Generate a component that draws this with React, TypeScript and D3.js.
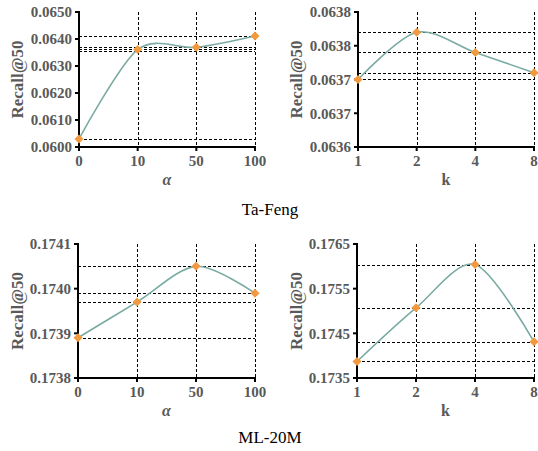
import React from "react";
import * as d3 from "d3";

const alphaLabels = ["0", "10", "50", "100"];
const kLabels = ["1", "2", "4", "8"];

const tafengAlpha = [0.0603, 0.06361, 0.06369, 0.06411];
const tafengK = [0.0637, 0.06377, 0.06374, 0.06371];
const mlAlpha = [0.17389, 0.17397, 0.17405, 0.17399];
const mlK = [0.17387, 0.17507, 0.17604, 0.17431];

const tafengAlphaTicks = [0.06, 0.061, 0.062, 0.063, 0.064, 0.065];
const tafengAlphaTickLabels = ["0.0600", "0.0610", "0.0620", "0.0630", "0.0640", "0.0650"];
const tafengKTicks = [0.0636, 0.06365, 0.0637, 0.06375, 0.0638];
const tafengKTickLabels = ["0.0636", "0.0637", "0.0637", "0.0638", "0.0638"];
const mlAlphaTicks = [0.1738, 0.1739, 0.174, 0.1741];
const mlAlphaTickLabels = ["0.1738", "0.1739", "0.1740", "0.1741"];
const mlKTicks = [0.1735, 0.1745, 0.1755, 0.1765];
const mlKTickLabels = ["0.1735", "0.1745", "0.1755", "0.1765"];

const tafengAlphaRefs = [0.06411, 0.06369, 0.06363, 0.06357, 0.0603];

const LINE = "#7aaba3";
const MARK = "#f2993f";
const TXT = "#595959";
const FONT = "'Liberation Serif', 'Times New Roman', serif";

type PanelProps = {
  x0: number; x1: number; y0: number; y1: number;
  cats: string[]; values: number[]; ticks: number[]; tickLabels: string[];
  refs: number[]; xTitle: string; titleX: number; italicTitle?: boolean;
};

function Panel(p: PanelProps) {
  const x = d3.scalePoint<string>().domain(p.cats).range([p.x0, p.x1]);
  const y = d3.scaleLinear().domain([p.ticks[0], p.ticks[p.ticks.length - 1]]).range([p.y1, p.y0]);
  const pts: [number, number][] = p.values.map((v, i) => [x(p.cats[i]) as number, y(v)]);
  const line = d3.line().curve(d3.curveCardinal.tension(0.1))(pts) || "";
  const dash = "3,2";
  const snap = (v: number) => Math.round(v) + 0.5;
  return (
    <g>
      {p.refs.map((r, i) => (
        <line key={"h" + i} x1={p.x0} x2={p.x1} y1={snap(y(r))} y2={snap(y(r))} stroke="#000" strokeWidth={1} strokeDasharray={dash} />
      ))}
      {p.cats.slice(1).map((c) => (
        <line key={"v" + c} x1={snap(x(c) as number)} x2={snap(x(c) as number)} y1={p.y0} y2={p.y1} stroke="#000" strokeWidth={1} strokeDasharray={dash} />
      ))}
      <line x1={p.x0} x2={p.x0} y1={p.y0 - 1} y2={p.y1 + 1} stroke="#000" strokeWidth={2} />
      <line x1={p.x0 - 1} x2={p.x1 + 1} y1={p.y1} y2={p.y1} stroke="#000" strokeWidth={2} />
      {p.ticks.map((t, i) => (
        <g key={"yt" + i}>
          <line x1={p.x0 - 4} x2={p.x0} y1={y(t)} y2={y(t)} stroke="#000" strokeWidth={2} />
          <text x={p.x0 - 7} y={y(t)} dy="0.35em" textAnchor="end" fontFamily={FONT} fontWeight="bold" fontSize={15} fill={TXT}>
            {p.tickLabels[i]}
          </text>
        </g>
      ))}
      {p.cats.map((c) => (
        <g key={"xt" + c}>
          <line x1={x(c)} x2={x(c)} y1={p.y1} y2={p.y1 + 4} stroke="#000" strokeWidth={2} />
          <text x={x(c)} y={p.y1 + 19} textAnchor="middle" fontFamily={FONT} fontWeight="bold" fontSize={15} fill={TXT}>
            {c}
          </text>
        </g>
      ))}
      <text x={(p.x0 + p.x1) / 2} y={p.y1 + 38} textAnchor="middle" fontFamily={FONT} fontWeight="bold" fontStyle={p.italicTitle ? "italic" : "normal"} fontSize={16} fill={TXT}>
        {p.xTitle}
      </text>
      <text transform={`translate(${p.titleX},${(p.y0 + p.y1) / 2}) rotate(-90)`} textAnchor="middle" dy="0.35em" fontFamily={FONT} fontWeight="bold" fontSize={17} fill={TXT}>
        Recall@50
      </text>
      <path d={line} fill="none" stroke={LINE} strokeWidth={1.6} />
      {pts.map(([px, py], i) => (
        <path key={"m" + i} d={`M${px},${py - 4.5}L${px + 4.5},${py}L${px},${py + 4.5}L${px - 4.5},${py}Z`} fill={MARK} />
      ))}
    </g>
  );
}

export default function App() {
  return (
    <svg width={538} height={451} style={{ position: "absolute", left: 0, top: 0, background: "#fff" }}>
      <rect width={538} height={451} fill="#fff" />
      <Panel x0={79} x1={255} y0={12} y1={147} cats={alphaLabels} values={tafengAlpha} ticks={tafengAlphaTicks} tickLabels={tafengAlphaTickLabels} refs={tafengAlphaRefs} xTitle="α" titleX={17} italicTitle />
      <Panel x0={358} x1={534} y0={12} y1={147} cats={kLabels} values={tafengK} ticks={tafengKTicks} tickLabels={tafengKTickLabels} refs={tafengK} xTitle="k" titleX={296} />
      <Panel x0={78} x1={255} y0={244} y1={378} cats={alphaLabels} values={mlAlpha} ticks={mlAlphaTicks} tickLabels={mlAlphaTickLabels} refs={mlAlpha} xTitle="α" titleX={17} italicTitle />
      <Panel x0={357} x1={534} y0={244} y1={378} cats={kLabels} values={mlK} ticks={mlKTicks} tickLabels={mlKTickLabels} refs={mlK} xTitle="k" titleX={296} />
      <text x={270} y={215} textAnchor="middle" fontFamily={FONT} fontSize={17} fill="#000">Ta-Feng</text>
      <text x={270} y={443} textAnchor="middle" fontFamily={FONT} fontSize={17} fill="#000">ML-20M</text>
    </svg>
  );
}
